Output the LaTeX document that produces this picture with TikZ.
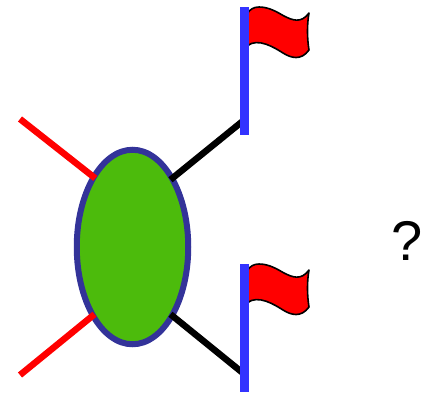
\documentclass[tikz,border=0pt]{standalone}
\usepackage{fontspec}
\setmainfont{Liberation Sans}
\usetikzlibrary{shapes.geometric}
\definecolor{ringblue}{HTML}{333399}
\definecolor{blobgreen}{HTML}{4CBB0C}
\definecolor{poleblue}{HTML}{3333FF}
\tikzset{
  blob/.style={ellipse,draw=ringblue,fill=blobgreen,line width=6pt,minimum width=111.5pt,minimum height=194.5pt,inner sep=0pt,outer sep=0pt},
  redleg/.style={draw=red,line width=6.5pt,shorten >=-2pt},
  blackleg/.style={draw=black,line width=6.5pt,shorten <=-2pt},
  polebar/.style={rectangle,fill=poleblue,minimum width=8.5pt,minimum height=128pt,inner sep=0pt,outer sep=0pt},
  flagcloth/.style={draw=black,fill=red,line width=1.6pt,line join=round}
}
\newcommand{\flagshape}[1]{%
  \begin{scope}[yshift=#1]
  \path[flagcloth] (247,14) .. controls (250,9) and (254,7) .. (259,7)
    .. controls (269,7) and (277,12) .. (284,16)
    .. controls (292,20) and (301,24) .. (309,13)
    .. controls (307,24) and (307,38) .. (309,50)
    .. controls (301,61) and (291,58) .. (283,53)
    .. controls (275,48) and (258,37) .. (247,46) -- cycle;
  \end{scope}}
\begin{document}
\begin{tikzpicture}[x=1pt,y=-1pt]
\useasboundingbox (0,0) rectangle (423,392);
\node[blob] (e) at (132.5,247) {};
\coordinate (r1) at (20,119);
\coordinate (r2) at (20,375);
\coordinate (j1) at (243.5,120.5);
\coordinate (j2) at (243.5,373.5);
\draw[redleg] (r1) -- (e.119.4);
\draw[redleg] (r2) -- (e.240.6);
\draw[blackleg] (e.60.6) -- (j1);
\draw[blackleg] (e.-60.6) -- (j2);
\flagshape{0pt}
\flagshape{-257pt}
\node[polebar] (p1) at (244.5,71) {};
\node[polebar] (p2) at (244.5,327.5) {};
\node[inner sep=0pt,font=\fontsize{56}{56}\selectfont] (q) at (407.5,240.5) {?};
\end{tikzpicture}
\end{document}
